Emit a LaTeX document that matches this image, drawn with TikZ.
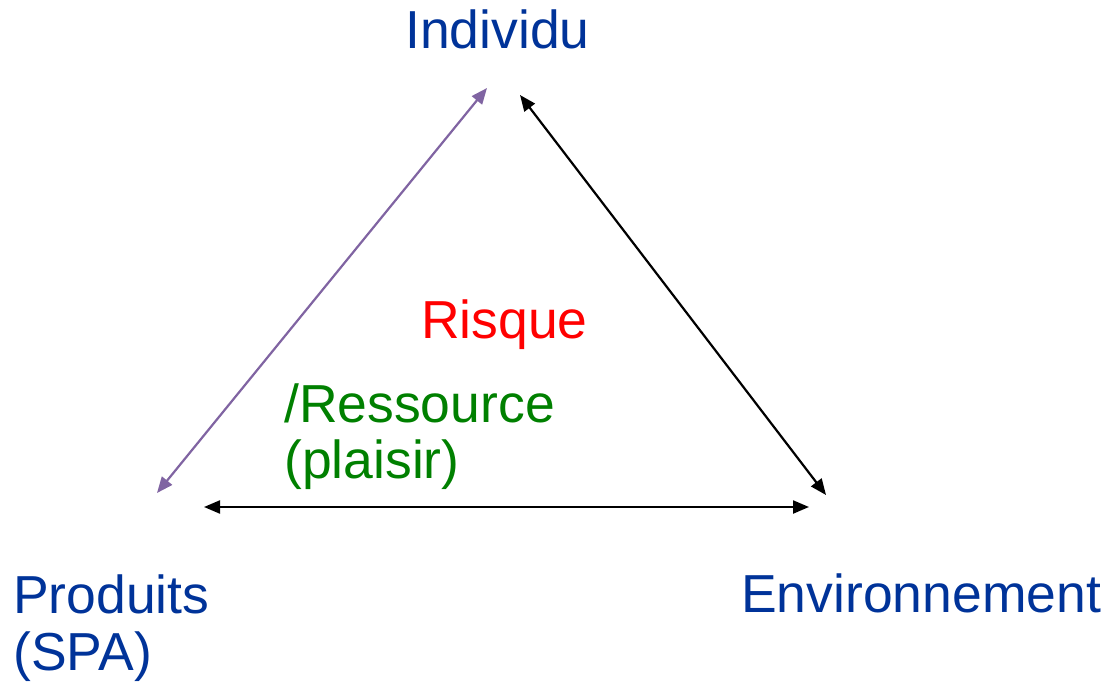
\documentclass[tikz,border=0pt]{standalone}
\usepackage{fontspec}
\setmainfont{Liberation Sans}
\usetikzlibrary{arrows.meta}
\definecolor{tblue}{RGB}{0,51,153}
\definecolor{tgreen}{RGB}{0,128,0}
\definecolor{tred}{RGB}{255,0,0}
\definecolor{tpurple}{RGB}{128,100,162}
\begin{document}
\begin{tikzpicture}[x=1pt,y=-1pt,
  lbl/.style={anchor=base west,inner sep=0pt,font=\fontsize{53.5}{58}\selectfont},
  link/.style={line width=2.2pt,{Triangle[length=16pt,width=13pt]}-{Triangle[length=16pt,width=13pt]}}]
\useasboundingbox (0,0) rectangle (1106,686);
\node[lbl,text=tblue] (ind) at (405,48) {Individu};
\node[lbl,text=tred] (risk) at (421,338) {Risque};
\node[lbl,text=tgreen] (res) at (284,422) {/Ressource};
\node[lbl,text=tgreen] (pla) at (284,478) {(plaisir)};
\node[lbl,text=tblue] (prod) at (13,613) {Produits};
\node[lbl,text=tblue] (spa) at (13,670) {(SPA)};
\node[lbl,text=tblue] (env) at (741,612) {Environnement};
\coordinate (pA) at (157,493);
\coordinate (pB) at (487,88);
\coordinate (eA) at (520,95);
\coordinate (eB) at (826,495);
\coordinate (hA) at (204,507);
\coordinate (hB) at (809,507);
\draw[link,tpurple] (pA) -- (pB);
\draw[link,black] (eA) -- (eB);
\draw[link,black] (hA) -- (hB);
\end{tikzpicture}
\end{document}
